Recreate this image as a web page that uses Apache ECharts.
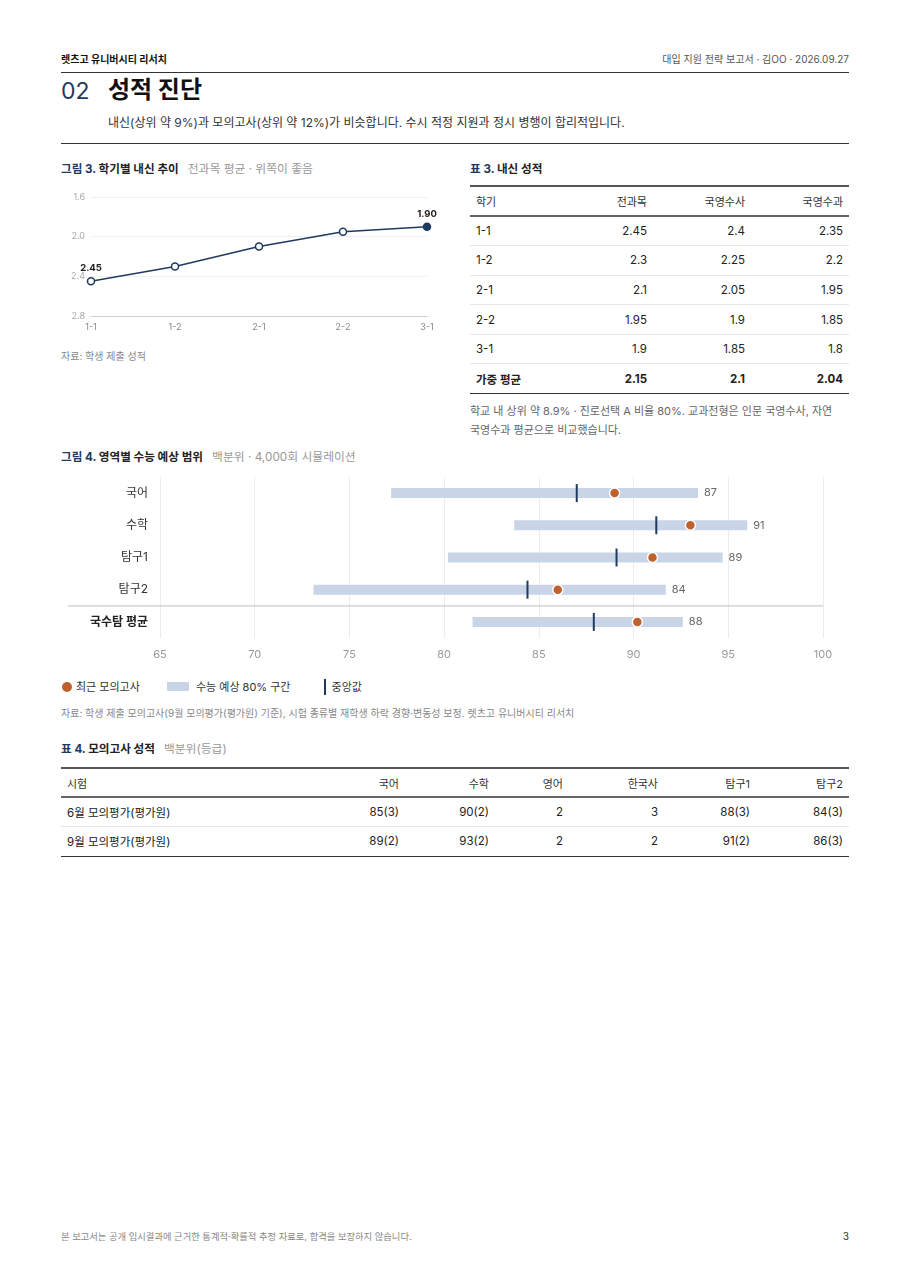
<!DOCTYPE html>
<html lang="ko">
<head>
<meta charset="utf-8">
<script src="https://cdn.jsdelivr.net/npm/echarts@6/dist/echarts.min.js"></script>
<style>
  body { margin: 0; background: #fff; font-family: Inter, "Noto Sans CJK KR", "Noto Sans", sans-serif; color: #222; }
  #page { position: relative; width: 909px; height: 1287px; overflow: hidden; }
  .abs { position: absolute; white-space: nowrap; }
  .rule { position: absolute; left: 61px; width: 788px; height: 0; border-top: 1.5px solid #333; }
  .ftitle { font-size: 11.6px; line-height: 15px; font-weight: 700; color: #222; }
  .ftitle .no { color: #1f3a5f; }
  .ftitle .sub { font-weight: 400; color: #999; margin-left: 9px; font-size: 11.8px; }
  .src { font-size: 10px; line-height: 14px; color: #888; }
  table { position: absolute; border-collapse: collapse; table-layout: fixed; font-size: 11.5px; color: #222; }
  table thead th { font-weight: 400; font-size: 11px; color: #333; border-top: 2px solid #555; border-bottom: 2px solid #666; }
  table td, table th { padding: 0 6px; text-align: right; }
  table td:first-child, table th:first-child { text-align: left; }
  table tbody td { border-bottom: 1px solid #e6e6e6; }
  table tbody tr:last-child td { border-bottom: 1.5px solid #333; }
  .bold td { font-weight: 700; }
</style>
</head>
<body>
<div id="page">
  <div class="abs" style="left:61px;top:52px;font-size:10px;line-height:14px;font-weight:700;color:#111;">렛츠고 유니버시티 리서치</div>
  <div class="abs" style="right:60px;top:52px;font-size:10px;line-height:14px;color:#555;">대입 지원 전략 보고서 · 김OO · 2026.09.27</div>
  <div class="rule" style="top:72px;"></div>
  <div class="abs" style="left:61px;top:76px;font-size:23px;line-height:30px;color:#1f3a5f;">02</div>
  <div class="abs" style="left:108px;top:75px;font-size:24px;line-height:30px;font-weight:700;color:#111;">성적 진단</div>
  <div class="abs" style="left:108px;top:115px;font-size:12px;line-height:16px;color:#333;">내신(상위 약 9%)과 모의고사(상위 약 12%)가 비슷합니다. 수시 적정 지원과 정시 병행이 합리적입니다.</div>
  <div class="rule" style="top:143px;"></div>

  <div class="abs ftitle" style="left:61px;top:162px;"><span class="no">그림 3.</span> 학기별 내신 추이<span class="sub">전과목 평균 · 위쪽이 좋음</span></div>
  <div id="lineChart" style="position:absolute;left:61px;top:185px;width:380px;height:160px;"></div>
  <div class="abs src" style="left:61px;top:349px;">자료: 학생 제출 성적</div>

  <div class="abs ftitle" style="left:470px;top:162px;"><span class="no">표 3.</span> 내신 성적</div>
  <table id="gpaTable" style="left:470px;top:185px;width:379px;">
    <colgroup><col style="width:85px"><col style="width:98px"><col style="width:98px"><col style="width:98px"></colgroup>
    <thead><tr style="height:30px"><th>학기</th><th>전과목</th><th>국영수사</th><th>국영수과</th></tr></thead>
    <tbody></tbody>
  </table>
  <div class="abs" style="left:470px;top:402px;font-size:11px;line-height:19px;color:#666;">학교 내 상위 약 8.9% · 진로선택 A 비율 80%. 교과전형은 인문 국영수사, 자연<br>국영수과 평균으로 비교했습니다.</div>

  <div class="abs ftitle" style="left:61px;top:450px;"><span class="no">그림 4.</span> 영역별 수능 예상 범위<span class="sub">백분위 · 4,000회 시뮬레이션</span></div>
  <div id="rangeChart" style="position:absolute;left:61px;top:470px;width:788px;height:200px;"></div>
  <div class="abs" style="left:62px;top:679px;font-size:11px;line-height:16px;color:#333;">
    <span style="display:inline-block;width:10px;height:10px;border-radius:50%;background:#c0602c;vertical-align:-1px;"></span><span style="margin-left:4px;">최근 모의고사</span>
    <span style="display:inline-block;width:22px;height:9px;background:#c9d5e7;margin-left:24px;vertical-align:0px;"></span><span style="margin-left:7px;">수능 예상 80% 구간</span>
    <span style="display:inline-block;width:2px;height:16px;background:#1f3a5f;margin-left:30px;vertical-align:-4px;"></span><span style="margin-left:6px;">중앙값</span>
  </div>
  <div class="abs src" style="left:61px;top:706px;">자료: 학생 제출 모의고사(9월 모의평가(평가원) 기준), 시험 종류별 재학생 하락 경향·변동성 보정. 렛츠고 유니버시티 리서치</div>

  <div class="abs ftitle" style="left:61px;top:742px;"><span class="no">표 4.</span> 모의고사 성적<span class="sub">백분위(등급)</span></div>
  <table id="mockTable" style="left:61px;top:767px;width:788px;">
    <colgroup><col style="width:250px"><col style="width:94px"><col style="width:90px"><col style="width:74px"><col style="width:95px"><col style="width:92px"><col style="width:93px"></colgroup>
    <thead><tr style="height:29px"></tr></thead>
    <tbody></tbody>
  </table>

  <div class="abs" style="left:61px;top:1230px;font-size:9.3px;line-height:13px;color:#888;">본 보고서는 공개 입시결과에 근거한 통계적·확률적 추정 자료로, 합격을 보장하지 않습니다.</div>
  <div class="abs" style="right:60px;top:1229px;font-size:10px;line-height:14px;color:#333;">3</div>
</div>

<script>
// 내신
const semesters = ['1-1', '1-2', '2-1', '2-2', '3-1']
const gpaAll = [2.45, 2.3, 2.1, 1.95, 1.9]
const gpaKESS = [2.4, 2.25, 2.05, 1.9, 1.85]
const gpaKESC = [2.35, 2.2, 1.95, 1.85, 1.8]
const gpaWeighted = [2.15, 2.1, 2.04]

// 수능 예상 범위 (백분위)
const areas = ['국어', '수학', '탐구1', '탐구2', '국수탐 평균']
const rangeLow = [77.2, 83.7, 80.2, 73.1, 81.5]
const rangeHigh = [93.4, 96.0, 94.7, 91.7, 92.6]
const medians = [87.0, 91.2, 89.1, 84.4, 87.9]
const recentMock = [89, 93, 91, 86, 90.2]

// 모의고사
const mockHeader = ['시험', '국어', '수학', '영어', '한국사', '탐구1', '탐구2']
const mockExams = ['6월 모의평가(평가원)', '9월 모의평가(평가원)']
const mockJune = ['85(3)', '90(2)', '2', '3', '88(3)', '84(3)']
const mockSept = ['89(2)', '93(2)', '2', '2', '91(2)', '86(3)']

const navy = '#1f3a5f'

// 표 3
const gpaBody = document.querySelector('#gpaTable tbody')
semesters.forEach((s, i) => {
  gpaBody.insertAdjacentHTML('beforeend',
    `<tr style="height:29.6px"><td>${s}</td><td>${gpaAll[i]}</td><td>${gpaKESS[i]}</td><td>${gpaKESC[i]}</td></tr>`)
})
gpaBody.insertAdjacentHTML('beforeend',
  `<tr class="bold" style="height:29.6px"><td>가중 평균</td><td>${gpaWeighted[0]}</td><td>${gpaWeighted[1]}</td><td>${gpaWeighted[2]}</td></tr>`)

// 표 4
document.querySelector('#mockTable thead tr').innerHTML = mockHeader.map(h => `<th>${h}</th>`).join('')
const mockBody = document.querySelector('#mockTable tbody')
;[mockJune, mockSept].forEach((row, i) => {
  mockBody.insertAdjacentHTML('beforeend',
    `<tr style="height:29.5px"><td>${mockExams[i]}</td>${row.map(v => `<td>${v}</td>`).join('')}</tr>`)
})

const font = 'Inter, "Noto Sans CJK KR", "Noto Sans", sans-serif'

// 그림 3
const lineChart = echarts.init(document.getElementById('lineChart'))
lineChart.setOption({
  animation: false,
  textStyle: { fontFamily: font },
  grid: { left: 30, right: 14, top: 12, bottom: 29 },
  xAxis: {
    type: 'category',
    data: semesters,
    boundaryGap: false,
    axisLine: { onZero: false, lineStyle: { color: '#cfcfcf' } },
    axisTick: { show: false },
    axisLabel: { color: '#888', fontSize: 9, margin: 7, fontFamily: font }
  },
  yAxis: {
    type: 'value',
    inverse: true,
    min: 1.6,
    max: 2.8,
    interval: 0.4,
    axisLine: { show: false },
    axisTick: { show: false },
    axisLabel: { color: '#aaa', fontSize: 9, margin: 6, fontFamily: font, formatter: v => v.toFixed(1) },
    splitLine: { lineStyle: { color: '#efefef' } }
  },
  series: [{
    type: 'line',
    data: gpaAll.map((v, i) => {
      const last = i === gpaAll.length - 1
      return {
        value: v,
        itemStyle: last ? { color: navy, borderColor: navy } : undefined,
        label: { show: i === 0 || last }
      }
    }),
    symbol: 'circle',
    symbolSize: 7,
    lineStyle: { color: navy, width: 1.5 },
    itemStyle: { color: '#fff', borderColor: navy, borderWidth: 1.5 },
    label: {
      position: 'top',
      distance: 4,
      color: '#222',
      fontSize: 9.5,
      fontWeight: 'bold',
      fontFamily: font,
      formatter: p => p.value.toFixed(2)
    }
  }]
})

// 그림 4
const rangeChart = echarts.init(document.getElementById('rangeChart'))
rangeChart.setOption({
  animation: false,
  textStyle: { fontFamily: font },
  grid: { left: 99, right: 26, top: 7, bottom: 32 },
  xAxis: {
    type: 'value',
    min: 65,
    max: 100,
    interval: 5,
    axisLine: { show: false },
    axisTick: { show: false },
    axisLabel: { color: '#999', fontSize: 11, margin: 11, fontFamily: font },
    splitLine: { lineStyle: { color: '#ececec' } }
  },
  yAxis: {
    type: 'category',
    data: areas,
    inverse: true,
    axisLine: { show: false },
    axisTick: { show: false },
    axisLabel: {
      color: '#333',
      fontSize: 12,
      margin: 12,
      fontFamily: font,
      formatter: (v, i) => (i === areas.length - 1 ? `{b|${v}}` : v),
      rich: { b: { fontWeight: 'bold', fontSize: 12, color: '#222', fontFamily: font } }
    }
  },
  series: [
    {
      type: 'custom',
      name: '수능 예상 80% 구간',
      data: areas.map((a, i) => [i, rangeLow[i], rangeHigh[i], medians[i]]),
      encode: { x: [1, 2], y: 0 },
      renderItem: (params, api) => {
        const y = api.value(0)
        const p0 = api.coord([api.value(1), y])
        const p1 = api.coord([api.value(2), y])
        return {
          type: 'group',
          children: [
            { type: 'rect', shape: { x: p0[0], y: p0[1] - 5, width: p1[0] - p0[0], height: 10 }, style: { fill: '#c9d5e7' } },
            {
              type: 'text',
              style: {
                x: p1[0] + 6, y: p1[1],
                text: String(Math.round(api.value(3))),
                fill: '#666', fontSize: 11, fontFamily: font,
                verticalAlign: 'middle', align: 'left'
              }
            }
          ]
        }
      },
      z: 1
    },
    {
      type: 'custom',
      name: '중앙값',
      data: areas.map((a, i) => [i, medians[i]]),
      encode: { x: 1, y: 0 },
      renderItem: (params, api) => {
        const p = api.coord([api.value(1), api.value(0)])
        return {
          type: 'rect',
          shape: { x: p[0] - 1, y: p[1] - 9, width: 2, height: 18 },
          style: { fill: navy }
        }
      },
      z: 2
    },
    {
      type: 'scatter',
      name: '최근 모의고사',
      data: areas.map((a, i) => [recentMock[i], i]),
      symbolSize: 10,
      itemStyle: { color: '#c0602c', borderColor: '#fff', borderWidth: 1.5, opacity: 1 },
      z: 3
    }
  ]
})

// 국수탐 평균 구분선
const ySep = (rangeChart.convertToPixel({ yAxisIndex: 0 }, areas.length - 2) +
  rangeChart.convertToPixel({ yAxisIndex: 0 }, areas.length - 1)) / 2
const xRight = rangeChart.convertToPixel({ xAxisIndex: 0 }, 100)
rangeChart.setOption({
  graphic: [{
    type: 'line',
    shape: { x1: 7, y1: ySep, x2: xRight, y2: ySep },
    style: { stroke: '#cccccc', lineWidth: 1.2 },
    z: 0
  }]
})
</script>
</body>
</html>
